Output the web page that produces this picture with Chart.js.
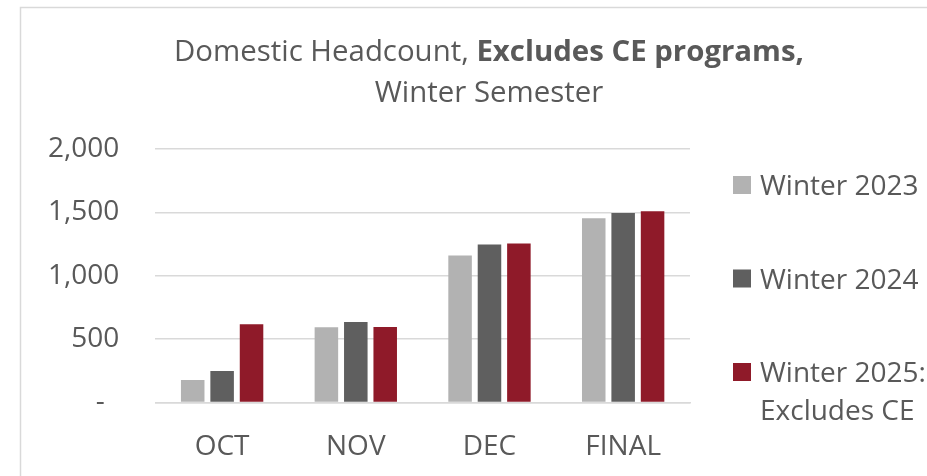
<!DOCTYPE html>
<html lang="en">

<head>
    <meta charset="UTF-8">
    <title>Domestic Headcount - Winter Semester</title>
    <script src="https://cdn.jsdelivr.net/npm/chart.js"></script>
    <style>
        html,
        body {
            margin: 0;
            padding: 0;
            background-color: #ffffff;
        }

        .chart-box {
            position: relative;
            width: 927px;
            height: 476px;
        }
    </style>
</head>

<body>
    <div class="chart-box">
        <canvas id="headcountChart"></canvas>
    </div>

    <script>
        // data
        const periods = ['OCT', 'NOV', 'DEC', 'FINAL'];
        const winter2023 = [176, 594, 1160, 1454];
        const winter2024 = [247, 635, 1247, 1494];
        const winter2025 = [617, 596, 1255, 1509];
        const seriesNames = [['Winter 2023'], ['Winter 2024'], ['Winter 2025:', 'Excludes CE']];
        const yTickValues = [0, 500, 1000, 1500, 2000];
        const titleLine1 = ['Domestic Headcount, ', 'Excludes CE programs,'];
        const titleLine2 = 'Winter Semester';

        const textColor = '#595959';
        const gridColor = '#d9d9d9';
        const seriesColors = ['#b2b2b2', '#5f5f5f', '#8f1a29'];

        Chart.defaults.font.family = '"Open Sans", sans-serif';
        Chart.defaults.color = textColor;

        // frame + two-weight title
        const frameAndTitle = {
            id: 'frameAndTitle',
            beforeDraw(chart) {
                const ctx = chart.ctx;
                ctx.save();
                ctx.strokeStyle = gridColor;
                ctx.lineWidth = 1.5;
                ctx.strokeRect(20.5, 7.5, 1000, 600);
                ctx.restore();
            },
            afterDraw(chart) {
                const ctx = chart.ctx;
                const cx = 489;
                ctx.save();
                ctx.fillStyle = textColor;
                ctx.textBaseline = 'alphabetic';
                ctx.textAlign = 'left';
                const normalFont = '29.4px "Open Sans"';
                const boldFont = 'bold 29.4px "Open Sans"';
                ctx.font = normalFont;
                const w1 = ctx.measureText(titleLine1[0]).width;
                ctx.font = boldFont;
                const w2 = ctx.measureText(titleLine1[1]).width;
                let x = cx - (w1 + w2) / 2;
                ctx.font = normalFont;
                ctx.fillText(titleLine1[0], x, 61);
                ctx.font = boldFont;
                ctx.fillText(titleLine1[1], x + w1, 61);
                ctx.font = normalFont;
                ctx.textAlign = 'center';
                ctx.fillText(titleLine2, cx, 102);
                ctx.restore();
            }
        };

        // legend on the right, with a wrapped last entry
        const sideLegend = {
            id: 'sideLegend',
            afterDraw(chart) {
                const ctx = chart.ctx;
                const left = chart.chartArea.right + 43;
                ctx.save();
                ctx.font = '28px "Open Sans"';
                ctx.textBaseline = 'alphabetic';
                ctx.textAlign = 'left';
                chart.data.datasets.forEach((ds, i) => {
                    const top = 176 + i * 93.5;
                    ctx.fillStyle = ds.backgroundColor;
                    ctx.fillRect(left, top, 18, 18);
                    ctx.fillStyle = textColor;
                    seriesNames[i].forEach((line, j) => {
                        ctx.fillText(line, left + 27, top + 19 + j * 38);
                    });
                });
                ctx.restore();
            }
        };

        const ctx = document.getElementById('headcountChart').getContext('2d');
        const headcountChart = new Chart(ctx, {
            type: 'bar',
            data: {
                labels: periods,
                datasets: [{
                    label: seriesNames[0].join(' '),
                    data: winter2023,
                    backgroundColor: seriesColors[0]
                }, {
                    label: seriesNames[1].join(' '),
                    data: winter2024,
                    backgroundColor: seriesColors[1]
                }, {
                    label: seriesNames[2].join(' '),
                    data: winter2025,
                    backgroundColor: seriesColors[2]
                }]
            },
            options: {
                responsive: true,
                maintainAspectRatio: false,
                animation: false,
                categoryPercentage: 0.66,
                barPercentage: 0.8,
                layout: {
                    padding: { top: 149, left: 12, right: 237, bottom: -8 }
                },
                plugins: {
                    legend: { display: false },
                    title: { display: false },
                    tooltip: { enabled: false }
                },
                scales: {
                    x: {
                        grid: { display: false },
                        border: { color: gridColor, width: 1.5 },
                        ticks: {
                            font: { size: 28 },
                            color: textColor,
                            padding: 20,
                            maxRotation: 0
                        }
                    },
                    y: {
                        min: yTickValues[0],
                        max: yTickValues[yTickValues.length - 1],
                        afterBuildTicks(axis) {
                            axis.ticks = yTickValues.map(v => ({ value: v }));
                        },
                        grid: { color: gridColor, lineWidth: 1.5, drawTicks: false },
                        border: { display: false },
                        ticks: {
                            font: { size: 28 },
                            color: textColor,
                            padding: 36,
                            callback: v => v === 0 ? '-  ' : v.toLocaleString('en-US')
                        }
                    }
                }
            },
            plugins: [frameAndTitle, sideLegend]
        });
    </script>
</body>

</html>
